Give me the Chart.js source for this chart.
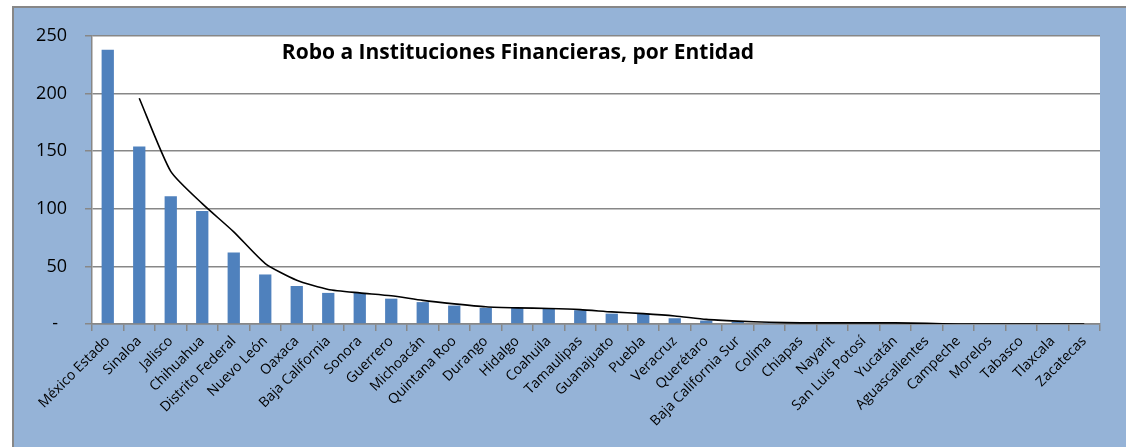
<!DOCTYPE html>
<html>
<head>
<meta charset="utf-8">
<script src="https://cdn.jsdelivr.net/npm/chart.js@4/dist/chart.umd.min.js"></script>
<style>
  html, body { margin: 0; padding: 0; background: #fff; }
  canvas { display: block; }
</style>
</head>
<body>
<canvas id="grafica" width="1126" height="447"></canvas>
<script>
const estados = ['México Estado', 'Sinaloa', 'Jalisco', 'Chihuahua', 'Distrito Federal', 'Nuevo León',
  'Oaxaca', 'Baja California', 'Sonora', 'Guerrero', 'Michoacán', 'Quintana Roo', 'Durango', 'Hidalgo',
  'Coahuila', 'Tamaulipas', 'Guanajuato', 'Puebla', 'Veracruz', 'Querétaro', 'Baja California Sur',
  'Colima', 'Chiapas', 'Nayarit', 'San Luis Potosí', 'Yucatán', 'Aguascalientes', 'Campeche',
  'Morelos', 'Tabasco', 'Tlaxcala', 'Zacatecas'];

const robos = [238, 154, 111, 98, 62, 43, 33, 27, 27, 22, 19, 16, 14, 14, 13, 12, 9, 9, 5, 3, 2,
  1, 1, 1, 1, 1, 0, 0, 0, 0, 0, 0];

// linea de tendencia (media movil)
const tendencia = [null, 196, 132.5, 104.5, 80, 52.5, 38, 30, 27, 24.5, 20.5, 17.5, 15, 14, 13.5,
  12.5, 10.5, 9, 7, 4, 2.5, 1.5, 1, 1, 1, 1, 0.5, 0, 0, 0, 0, 0];

const ejeY = [0, 50, 100, 150, 200, 250];

const titulo = 'Robo a Instituciones Financieras, por Entidad';
const fuente = '"Open Sans", sans-serif';
const gris = '#878787';

const fondo = {
  id: 'fondo',
  beforeDraw(chart) {
    const { ctx, width, height, chartArea } = chart;
    ctx.save();
    ctx.fillStyle = '#fff';
    ctx.fillRect(0, 0, width, height);
    ctx.fillStyle = '#95b3d7';
    ctx.fillRect(12, 6, width - 12, height - 6);
    ctx.strokeStyle = gris;
    ctx.lineWidth = 2;
    ctx.beginPath();
    ctx.moveTo(13, height);
    ctx.lineTo(13, 7);
    ctx.lineTo(width, 7);
    ctx.stroke();
    ctx.fillStyle = '#fff';
    ctx.fillRect(chartArea.left, chartArea.top, chartArea.right - chartArea.left, chartArea.bottom - chartArea.top);
    ctx.restore();
  },
  afterDraw(chart) {
    const { ctx } = chart;
    ctx.save();
    ctx.font = 'bold 21px ' + fuente;
    ctx.fillStyle = '#000';
    ctx.textAlign = 'center';
    ctx.textBaseline = 'middle';
    ctx.fillText(titulo, 518, 53);
    ctx.restore();
  }
};

new Chart(document.getElementById('grafica'), {
  type: 'bar',
  data: {
    labels: estados,
    datasets: [
      {
        type: 'line',
        data: tendencia,
        borderColor: '#000',
        borderWidth: 1.6,
        pointRadius: 0,
        tension: 0.2,
        fill: false,
        order: 0
      },
      {
        data: robos,
        backgroundColor: '#4f81bd',
        barPercentage: 0.39,
        categoryPercentage: 1,
        order: 1
      }
    ]
  },
  options: {
    responsive: false,
    animation: false,
    layout: { padding: { top: 36, right: 26, left: 0, bottom: 0 } },
    plugins: {
      legend: { display: false },
      tooltip: { enabled: false }
    },
    scales: {
      x: {
        grid: { drawOnChartArea: false, tickLength: 7, color: gris, lineWidth: 1.5, offset: true },
        border: { color: gris, width: 1.5 },
        ticks: {
          autoSkip: false, minRotation: 45, maxRotation: 45, padding: 2,
          color: '#000', font: { family: fuente, size: 14 }
        },
        afterFit(s) { s.height = 123; }
      },
      y: {
        min: 0,
        max: 250,
        afterBuildTicks(s) { s.ticks = ejeY.map(v => ({ value: v })); },
        grid: { color: gris, lineWidth: 1.5, tickLength: 7 },
        border: { color: gris, width: 1.5 },
        ticks: {
          padding: 18,
          color: '#000',
          font: { family: fuente, size: 18 },
          callback: v => v === 0 ? '-\u2002' : v
        },
        afterFit(s) { s.width = 92; }
      }
    }
  },
  plugins: [fondo]
});
</script>
</body>
</html>
